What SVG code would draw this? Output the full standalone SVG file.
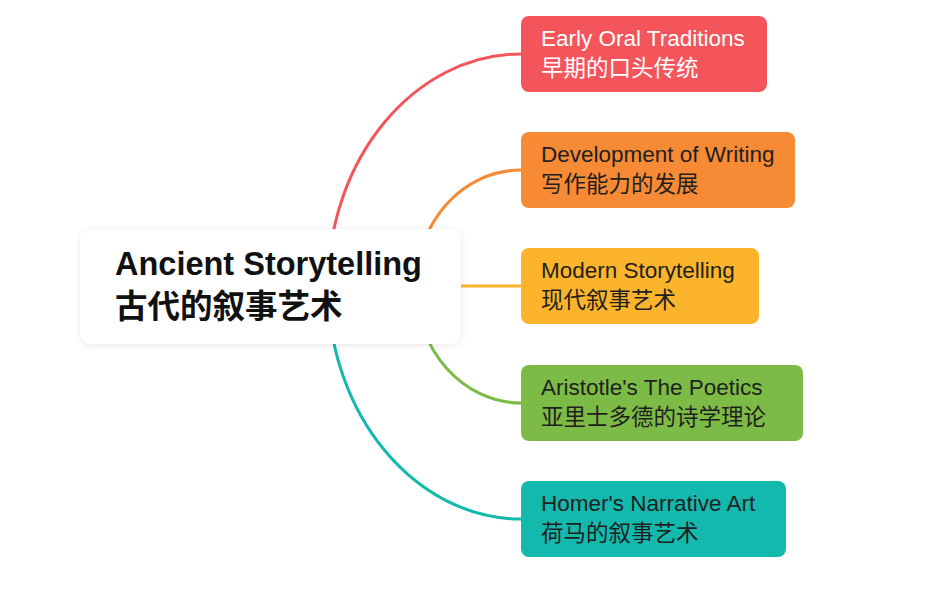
<svg xmlns="http://www.w3.org/2000/svg" width="952" height="594" viewBox="0 0 952 594">
  <defs>
    <filter id="shadow" x="-10%" y="-20%" width="120%" height="140%">
      <feDropShadow dx="0" dy="1" stdDeviation="3" flood-color="#000" flood-opacity="0.10"/>
    </filter>
    <style>
      .edge { fill: none; stroke-width: 3; stroke-linecap: round; }
      .t { font-family: "Liberation Sans", Arial, "Noto Sans CJK SC", sans-serif; font-size: 22.5px; fill: #1f1f1f; }
      .root { font-family: "Liberation Sans", Arial, "Noto Sans CJK SC", sans-serif; font-size: 32.5px; font-weight: bold; fill: #111; }
    </style>
  </defs>
  <rect width="952" height="594" fill="#ffffff"/>
  <g id="connectors">
    <path class="edge" stroke="#F4555A" d="M 328 286 C 328 158, 415 54, 521 54"/>
    <path class="edge" stroke="#F78A35" d="M 416 286 C 416 222, 463 170, 521 170"/>
    <path class="edge" stroke="#FBB42B" d="M 440 286 L 521 286"/>
    <path class="edge" stroke="#7DBB47" d="M 416 286 C 416 350, 463 403, 521 403"/>
    <path class="edge" stroke="#14B9AD" d="M 328 286 C 328 414, 415 519, 521 519"/>
  </g>
  <g id="root">
    <rect x="80" y="229" width="381" height="115" rx="11" fill="#ffffff" filter="url(#shadow)"/>
    <text class="root" x="115" y="275">Ancient Storytelling</text>
    <text class="root" x="115" y="318">古代的叙事艺术</text>
  </g>
  <g id="n1">
    <rect x="521" y="16" width="246" height="76" rx="8" fill="#F4555A"/>
    <text class="t" x="541" y="46" style="fill:#ffffff">Early Oral Traditions</text>
    <text class="t" x="541" y="76" style="fill:#ffffff">早期的口头传统</text>
  </g>
  <g id="n2">
    <rect x="521" y="132" width="274" height="76" rx="8" fill="#F78A35"/>
    <text class="t" x="541" y="162">Development of Writing</text>
    <text class="t" x="541" y="192">写作能力的发展</text>
  </g>
  <g id="n3">
    <rect x="521" y="248" width="238" height="76" rx="8" fill="#FBB42B"/>
    <text class="t" x="541" y="278">Modern Storytelling</text>
    <text class="t" x="541" y="308">现代叙事艺术</text>
  </g>
  <g id="n4">
    <rect x="521" y="365" width="282" height="76" rx="8" fill="#7DBB47"/>
    <text class="t" x="541" y="395">Aristotle's The Poetics</text>
    <text class="t" x="541" y="425">亚里士多德的诗学理论</text>
  </g>
  <g id="n5">
    <rect x="521" y="481" width="265" height="76" rx="8" fill="#14B9AD"/>
    <text class="t" x="541" y="511">Homer's Narrative Art</text>
    <text class="t" x="541" y="541">荷马的叙事艺术</text>
  </g>
</svg>
